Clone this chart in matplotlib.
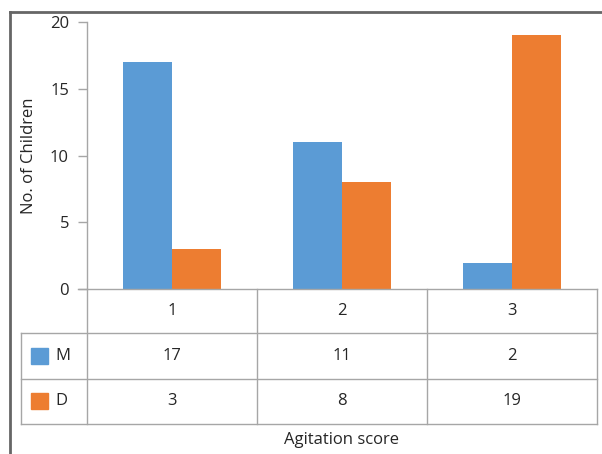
import matplotlib
matplotlib.use("Agg")
import matplotlib.pyplot as plt
from matplotlib.lines import Line2D
from matplotlib.patches import Rectangle

categories = ["1", "2", "3"]
series_names = ["M", "D"]
m_values = [17, 11, 2]
d_values = [3, 8, 19]
y_ticks = [0, 5, 10, 15, 20]
colors = ["#5B9BD5", "#ED7D31"]

plt.rcParams["font.family"] = ["Open Sans", "DejaVu Sans"]

W, H = 602, 454
fig = plt.figure(figsize=(W / 100, H / 100), dpi=100)

def fx(px):
    return px / W

def fy(py):
    return 1 - py / H

# plot area in pixel coordinates
left, right, top, bottom = 87, 597, 21.7, 289.3
ax = fig.add_axes([fx(left), fy(bottom), fx(right - left), (bottom - top) / H])
ax.set_xlim(-0.5, 2.5)
ax.set_ylim(0, 20)

bw = 0.288
xs = list(range(len(categories)))
ax.bar([x - bw / 2 for x in xs], m_values, width=bw, color=colors[0], zorder=2)
ax.bar([x + bw / 2 for x in xs], d_values, width=bw, color=colors[1], zorder=2)

fs = 12
for s in ["top", "right", "bottom"]:
    ax.spines[s].set_visible(False)
ax.spines["left"].set_color("#A6A6A6")
ax.spines["left"].set_linewidth(1.0)
ax.set_yticks(y_ticks)
ax.tick_params(axis="y", length=6.5, width=1.0, color="#A6A6A6", labelsize=fs,
               labelcolor="#262626", pad=6.5)
ax.set_xticks([])
ax.set_ylabel("No. of Children", fontsize=fs, color="#262626", labelpad=9)

# data table below the plot area
grid_c = "#A6A6A6"
lw = 1.0
tx0, tx1 = 21, 597
col_edges = [87, 257, 427, 597]
row_edges = [289.3, 333, 378.5, 424]

def hline(y, x0, x1, c=grid_c, w=lw):
    fig.add_artist(Line2D([fx(x0), fx(x1)], [fy(y), fy(y)], color=c, lw=w))

def vline(x, y0, y1, c=grid_c, w=lw):
    fig.add_artist(Line2D([fx(x), fx(x)], [fy(y0), fy(y1)], color=c, lw=w))

hline(row_edges[0], 78, tx1)
for y in row_edges[1:]:
    hline(y, tx0, tx1)
for x in col_edges:
    vline(x, row_edges[0], row_edges[3])
vline(tx0, row_edges[1], row_edges[3])

txt_kw = dict(fontsize=fs, color="#262626", ha="center", va="center")
for i, cat in enumerate(categories):
    cx = (col_edges[i] + col_edges[i + 1]) / 2
    fig.text(fx(cx), fy((row_edges[0] + row_edges[1]) / 2), cat, **txt_kw)
    fig.text(fx(cx), fy((row_edges[1] + row_edges[2]) / 2), str(m_values[i]), **txt_kw)
    fig.text(fx(cx), fy((row_edges[2] + row_edges[3]) / 2), str(d_values[i]), **txt_kw)

for j, name in enumerate(series_names):
    cy = (row_edges[j + 1] + row_edges[j + 2]) / 2
    fig.add_artist(Rectangle((fx(31), fy(cy + 8)), fx(17), 16 / H,
                             color=colors[j], transform=fig.transFigure))
    fig.text(fx(55), fy(cy), name, fontsize=fs, color="#262626", ha="left", va="center")

fig.text(fx((left + right) / 2), fy(440), "Agitation score", fontsize=fs,
         color="#262626", ha="center", va="center")

# outer chart border
frame_c = "#666666"
hline(11.5, 10, W, c=frame_c, w=2)
vline(10, 11.5, H, c=frame_c, w=2)

fig.savefig("out.png", dpi=100)
